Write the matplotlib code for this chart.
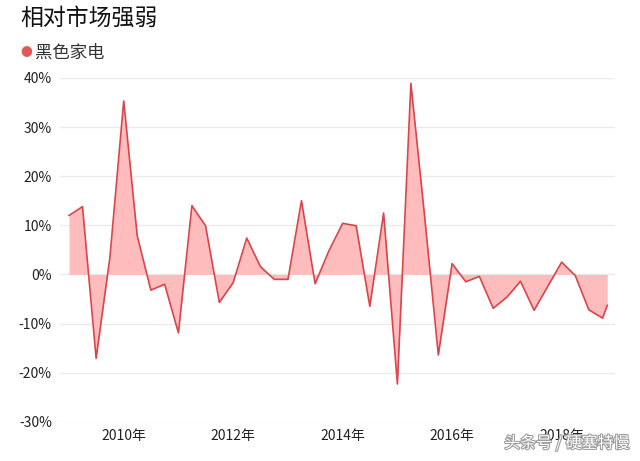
import matplotlib.pyplot as plt
import matplotlib.dates as mdates
import matplotlib.patheffects as pe
import pandas as pd

plt.rcParams['font.family'] = ['Noto Sans CJK SC', 'DejaVu Sans']

# quarterly points from 2009Q1 to 2018Q4, plus one last monthly point
dates = list(pd.date_range('2009-01-01', periods=40, freq='QS')) + [pd.Timestamp('2018-11-01')]
values = [12.0, 13.8, -17.1, 3.5,
          35.3, 7.9, -3.2, -2.0,
          -11.9, 14.0, 9.9, -5.7,
          -1.7, 7.4, 1.6, -1.0,
          -1.0, 15.0, -1.9, 4.8,
          10.4, 9.9, -6.5, 12.5,
          -22.3, 38.9, 12.0, -16.4,
          2.2, -1.5, -0.4, -6.9,
          -4.6, -1.4, -7.3, -2.4,
          2.5, -0.2, -7.2, -8.9,
          -6.3]
yticks = [-30, -20, -10, 0, 10, 20, 30, 40]
years = [2010, 2012, 2014, 2016, 2018]

fig = plt.figure(figsize=(6.4, 4.61), dpi=100)
ax = fig.add_axes([0.094, 0.085, 0.867, 0.746])

ax.fill_between(dates, values, 0, color='#ffbcbc', lw=0)
ax.plot(dates, values, color='#d9454a', lw=1.2)

ax.set_ylim(-30, 40)
ax.set_yticks(yticks)
ax.set_yticklabels([f'{v}%' for v in yticks])
ax.set_xlim(pd.Timestamp('2008-11-03'), pd.Timestamp('2018-12-23'))
ax.set_xticks([pd.Timestamp(f'{y}-01-01') for y in years])
ax.set_xticklabels([f'{y}年' for y in years])
ax.grid(axis='y', color='#ebebeb', lw=1)
ax.set_axisbelow(True)
for s in ax.spines.values():
    s.set_visible(False)
ax.tick_params(length=0, labelsize=10, colors='#222222')
ax.tick_params(axis='y', pad=6)
ax.tick_params(axis='x', pad=5)

fig.text(0.031, 0.96, '相对市场强弱', fontsize=16.5, color='#111111', va='center')
fig.text(0.041, 0.886, '●', fontsize=8.5, color='#e05a5a', va='center', ha='center')
fig.text(0.055, 0.886, '黑色家电', fontsize=12.5, color='#333333', va='center')

fig.text(0.984, 0.038, '头条号 / 硬塞特慢', fontsize=11.5, color='white', ha='right',
         va='center', path_effects=[pe.withStroke(linewidth=1.5, foreground='#9a9a9a')])

fig.savefig('out.png', dpi=100)
